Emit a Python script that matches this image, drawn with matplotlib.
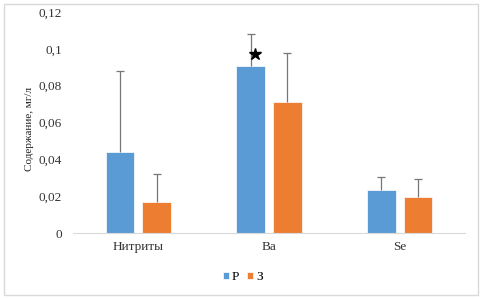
import matplotlib.pyplot as plt
import numpy as np
from matplotlib.patches import Rectangle

plt.rcParams['font.family'] = ['Liberation Serif', 'DejaVu Serif']

categories = ['Нитриты', 'Ba', 'Se']
series = ['Р', 'З']
vals_p = [0.044, 0.0907, 0.0233]
err_p = [0.044, 0.0175, 0.0071]
vals_z = [0.0168, 0.0711, 0.0196]
err_z = [0.0152, 0.0266, 0.0097]
yticks = [0, 0.02, 0.04, 0.06, 0.08, 0.1, 0.12]
ylabels = ['0', '0,02', '0,04', '0,06', '0,08', '0,1', '0,12']

blue = '#5b9bd5'
orange = '#ed7d31'

fig = plt.figure(figsize=(4.84, 2.99), dpi=100)
ax = fig.add_axes([73/484, 1-233/299, 392/484, 221/299])

x = np.arange(len(categories))
w = 0.22
off = 0.14
ax.bar(x-off, vals_p, w, color=blue, edgecolor='white', linewidth=0.5, label=series[0], zorder=2)
ax.bar(x+off, vals_z, w, color=orange, edgecolor='white', linewidth=0.5, label=series[1], zorder=2)
for xs, v, e in [(x-off, vals_p, err_p), (x+off, vals_z, err_z)]:
    eb = ax.errorbar(xs, v, yerr=[np.zeros(3), e], fmt='none', ecolor='#777777',
                     elinewidth=0.9, capsize=3, capthick=0.9, zorder=3)
    eb[1][0].set_visible(False)

# significance star on Ba, Р
ax.plot(1-off+0.034, 0.0972, marker='*', color='black', markersize=9, zorder=4)

ax.set_xlim(-0.5, 2.5)
ax.set_ylim(0, 0.12)
ax.set_yticks(yticks)
ax.set_yticklabels(ylabels)
ax.set_xticks(x)
ax.set_xticklabels(categories)
ax.tick_params(length=0, labelsize=9.5, colors='#333333')
ax.tick_params(axis='y', pad=8)
ax.tick_params(axis='x', pad=6)
for s in ['top', 'right', 'left']:
    ax.spines[s].set_visible(False)
ax.spines['bottom'].set_color('#d9d9d9')
ax.set_ylabel('Содержание, мг/л', fontsize=8, color='#222222')
ax.yaxis.set_label_coords(-0.1, 0.47)

fig.legend(loc='center', bbox_to_anchor=(0.502, 1-277/299), ncol=2, frameon=False,
           fontsize=9.5, handlelength=0.45, handleheight=0.45, handletextpad=0.25, columnspacing=0.6)

fig.patches.append(Rectangle((4/484, 4/299), 474/484, 291/299, transform=fig.transFigure,
                             fill=False, edgecolor='#d9d9d9', linewidth=1))

fig.savefig('out.png', dpi=100)
